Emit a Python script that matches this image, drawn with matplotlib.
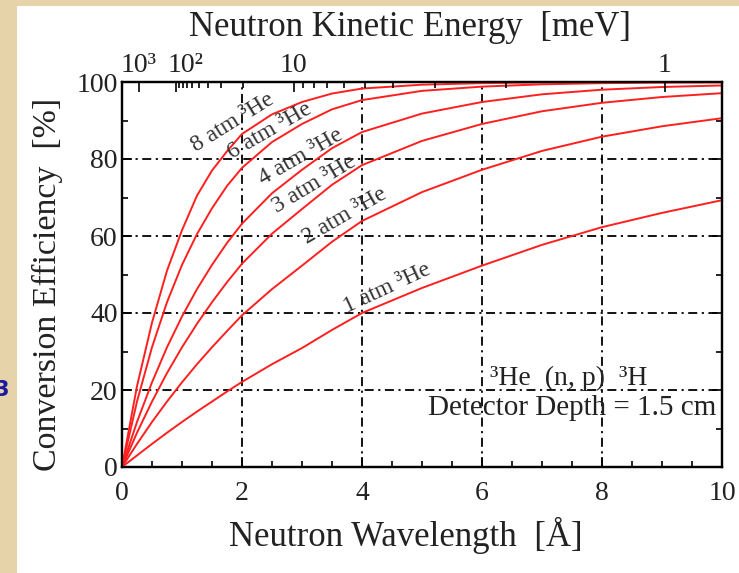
import numpy as np
import matplotlib
matplotlib.use("Agg")
import matplotlib.pyplot as plt
from matplotlib.patches import Rectangle
from matplotlib.transforms import ScaledTranslation

# ---- data ----
wavelength = [0, 0.25, 0.5, 0.75, 1, 1.25, 1.5, 1.75, 2, 2.5, 3, 3.5, 4, 5, 6, 7, 8, 9, 10]
eff_1atm = [0, 3.0, 6.0, 8.9, 11.7, 14.4, 17.0, 19.6, 22.1, 26.7, 30.9, 35.6, 40.0, 46.5, 52.3, 57.7, 62.3, 66.0, 69.3]
eff_2atm = [0, 6.0, 11.7, 17.0, 22.0, 26.7, 31.1, 35.3, 39.4, 46.2, 52.3, 58.5, 63.9, 71.4, 77.2, 82.1, 85.8, 88.5, 90.6]
eff_3atm = [0, 8.9, 17.0, 24.4, 31.1, 37.2, 42.8, 48.0, 52.8, 60.6, 67.0, 73.3, 78.4, 84.7, 89.1, 92.4, 94.6, 96.1, 97.1]
eff_4atm = [0, 11.7, 22.0, 31.1, 39.1, 46.2, 52.5, 58.2, 63.2, 71.1, 77.2, 82.8, 87.0, 91.8, 94.8, 96.8, 98.0, 98.7, 99.1]
eff_6atm = [0, 17.0, 31.1, 42.8, 52.5, 60.5, 67.2, 73.0, 77.7, 84.4, 89.1, 92.9, 95.3, 97.7, 98.8, 99.4, 99.7, 99.85, 99.9]
eff_8atm = [0, 21.0, 37.5, 51.0, 61.5, 70.5, 77.0, 82.0, 86.5, 91.6, 94.8, 97.0, 98.3, 99.3, 99.7, 99.9, 99.95, 99.98, 99.99]

curve_names = ["1 atm ³He", "2 atm ³He", "3 atm ³He", "4 atm ³He", "6 atm ³He", "8 atm ³He"]
curve_values = [eff_1atm, eff_2atm, eff_3atm, eff_4atm, eff_6atm, eff_8atm]
label_pos = [(4.42, 46.5), (3.72, 65.2), (3.2, 73.5), (2.98, 80.6), (2.47, 87.2), (1.85, 89.5)]
label_rot = [25, 30, 31, 30, 30, 32]

energy_major = [1000, 100, 10, 1]
energy_major_labels = ["10³", "10²", "10", "1"]
energy_minor = [90, 80, 70, 60, 50, 40, 30, 20, 9, 8, 7, 6, 5, 4, 3, 2]

x_ticks = [0, 2, 4, 6, 8, 10]
y_ticks = [0, 20, 40, 60, 80, 100]

SERIF = "Liberation Serif"
plt.rcParams["font.family"] = [SERIF, "DejaVu Serif"]

fig = plt.figure(figsize=(7.39, 5.73), dpi=100)
fig.patch.set_facecolor("#e6d3aa")
W, H = 739, 573
fig.patches.append(Rectangle((17 / W, 0), 1 - 17 / W, 1 - 6 / H, transform=fig.transFigure,
                             facecolor="white", edgecolor="none", zorder=-10))
fig.text(9 / W, 1 - 390 / H, "3", color="#1a1aa0", fontsize=15, fontweight="bold",
         family="DejaVu Sans", ha="right", va="center", zorder=-5)

ax = fig.add_axes([122 / W, 1 - 467 / H, 600 / W, 385 / H])
ax.set_facecolor("white")

for vals in curve_values:
    ax.plot(wavelength, vals, color="#ff1f1f", lw=1.4, zorder=3)

for name, (lx, ly), rot in zip(curve_names, label_pos, label_rot):
    ax.text(lx, ly, name, fontsize=17, rotation=rot, ha="center", va="center",
            color="#333333", rotation_mode="anchor", zorder=4)

ax.text(7.45, 23.1, "³He  (n, p)  ³H", fontsize=20, ha="center", va="center", color="#222222", zorder=4)
ax.text(7.5, 15.3, "Detector Depth = 1.5 cm", fontsize=21, ha="center", va="center", color="#222222", zorder=4)

ax.set_xlim(0, 10)
ax.set_ylim(0, 100)
ax.set_xticks(x_ticks)
ax.set_xticks(np.arange(0, 10.01, 0.5), minor=True)
ax.set_yticks(y_ticks)
ax.set_yticks(np.arange(0, 100.1, 10), minor=True)

ax.grid(True, which="major", color="black", lw=1.3, linestyle=(0, (5, 2.5, 1.2, 2.5)), zorder=1)
ax.tick_params(which="both", direction="in", bottom=True, left=True, right=True, top=False,
               colors="black", labelcolor="#222222", labelsize=20, width=1.2)
ax.tick_params(which="major", length=7)
ax.tick_params(which="minor", length=4)
ax.tick_params(axis="x", pad=10)
ax.tick_params(axis="y", pad=3)
for sp in ax.spines.values():
    sp.set_linewidth(1.6)

ax.set_xlabel("Neutron Wavelength  [Å]", fontsize=25, color="#222222")
ax.xaxis.set_label_coords(0.473, -0.13)
ax.set_ylabel("Conversion Efficiency  [%]", fontsize=24.5, color="#222222")
ax.yaxis.set_label_coords(-0.098, 0.473)

axt = ax.twiny()
axt.set_xlim(0, 10)
axt.set_xticks([np.sqrt(81.81 / e) for e in energy_major])
axt.set_xticklabels(energy_major_labels)
axt.set_xticks([np.sqrt(81.81 / e) for e in energy_minor], minor=True)
axt.tick_params(which="both", direction="in", labelsize=20, labelcolor="#222222", width=1.2, pad=3)
axt.tick_params(which="major", length=7)
axt.tick_params(which="minor", length=4)
for sp in axt.spines.values():
    sp.set_linewidth(1.6)
axt.set_xlabel("Neutron Kinetic Energy  [meV]", fontsize=25, color="#222222")
axt.xaxis.set_label_coords(0.48, 1.12)

# spread the crowded 10^3 / 10^2 labels apart as in the reference
shifts_px = [-1, 9, 0, 0]
for tick, dx in zip(axt.xaxis.get_major_ticks(), shifts_px):
    lab = tick.label2
    lab.set_transform(lab.get_transform() + ScaledTranslation(dx / 100, 0, fig.dpi_scale_trans))

fig.savefig("out.png", dpi=100, facecolor=fig.get_facecolor())
